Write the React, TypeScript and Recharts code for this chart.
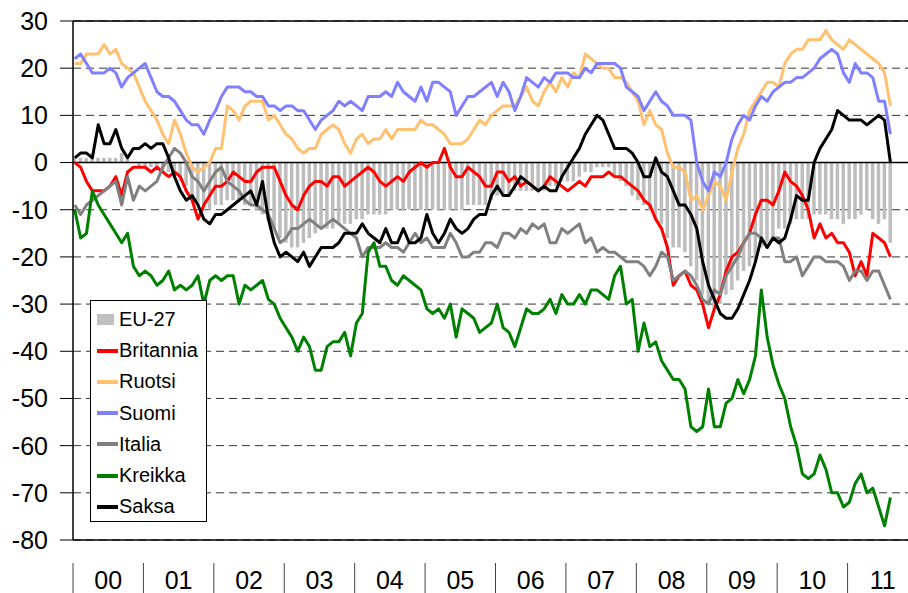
import {
  ComposedChart,
  Bar,
  Line,
  XAxis,
  YAxis,
  CartesianGrid,
  ReferenceLine,
  Legend,
} from 'recharts'

// luottamusindikaattori, kuukausittain 1/2000 - 8/2011
const years = ['00', '01', '02', '03', '04', '05', '06', '07', '08', '09', '10', '11']

const eu27 = [
  1, 1, 1, 2, 1, 1, 1, 1, 2, 1, 0, -1,
  -1, -1, -1, -2, -2, -3, -4, -5, -7, -9, -10, -10,
  -9, -9, -8, -8, -8, -9, -9, -10, -11, -12, -14, -16,
  -17, -18, -18, -17, -16, -15, -14, -14, -14, -13, -13, -13,
  -12, -12, -11, -11, -11, -11, -10, -10, -10, -10, -10, -10,
  -10, -10, -10, -10, -10, -10, -10, -9, -9, -9, -9, -8,
  -7, -7, -7, -6, -6, -6, -6, -6, -6, -5, -5, -4,
  -4, -4, -3, -2, -2, -1, -1, -1, -3, -4, -5, -7,
  -8, -9, -10, -12, -13, -16, -18, -18, -19, -22, -25, -28,
  -30, -31, -30, -28, -27, -25, -23, -22, -21, -18, -17, -16,
  -14, -14, -13, -12, -12, -12, -11, -11, -11, -12, -12, -13,
  -12, -12, -11, -10, -12, -13, -12, -17,
]

const britannia = [
  0, -1, -4, -6, -6, -6, -5, -3, -7, -2, -1, -1,
  -1, -2, -1, -2, -3, -2, -3, -6, -8, -12, -9, -7,
  -5, -5, -4, -2, -3, -4, -4, -2, -1, -1, -1, -4,
  -7, -9, -10, -7, -5, -4, -4, -5, -3, -3, -5, -4,
  -3, -2, -1, -2, -4, -5, -4, -3, -4, -2, -1, 0,
  -1, 0, 0, 3, -1, -3, -3, -1, -2, -3, -5, -5,
  -2, -2, -4, -3, -5, -4, -5, -6, -5, -3, -4, -5,
  -6, -5, -4, -5, -3, -3, -3, -2, -3, -3, -4, -5,
  -6, -8, -9, -12, -14, -18, -26, -24, -23, -26, -27, -30,
  -35, -31, -28, -23, -20, -19, -17, -15, -11, -8, -8, -9,
  -6, -2, -4, -5, -7, -10, -16, -13, -16, -15, -17, -17,
  -19, -24, -21, -24, -15, -16, -17, -20,
]

const ruotsi = [
  21, 21, 23, 23, 23, 25, 23, 24, 21, 20, 19, 16,
  13, 11, 9, 6, 4, 9, 6, 2, -1, -2, -1, 0,
  3, 3, 12, 11, 9, 12, 13, 13, 13, 9, 10, 8,
  6, 5, 3, 2, 3, 3, 6, 7, 8, 7, 4, 2,
  5, 6, 4, 5, 5, 7, 5, 7, 7, 7, 7, 9,
  8, 8, 7, 6, 4, 4, 4, 5, 7, 9, 8, 10,
  11, 12, 12, 12, 14, 16, 13, 12, 15, 17, 15, 18,
  16, 19, 18, 23, 22, 21, 20, 20, 18, 18, 17, 15,
  13, 8, 11, 8, 7, 2, -1, -1, -2, -8, -7, -10,
  -7, -4, -5, -8, -2, 3, 6, 11, 13, 15, 17, 17,
  16, 21, 23, 24, 24, 26, 26, 26, 28, 26, 25, 24,
  26, 25, 24, 23, 22, 21, 19, 12,
]

const suomi = [
  22, 23, 21, 19, 19, 19, 20, 19, 16, 18, 19, 20,
  21, 18, 15, 14, 14, 13, 11, 9, 8, 8, 6, 9,
  11, 14, 16, 16, 16, 15, 15, 14, 14, 12, 12, 11,
  12, 12, 11, 11, 9, 7, 9, 10, 11, 13, 12, 13,
  12, 11, 14, 14, 14, 15, 14, 17, 15, 14, 13, 16,
  13, 17, 17, 16, 15, 10, 12, 14, 14, 15, 16, 17,
  14, 17, 15, 11, 14, 18, 17, 16, 18, 17, 19, 19,
  19, 18, 18, 20, 19, 21, 21, 21, 21, 20, 16, 15,
  14, 11, 13, 15, 13, 12, 10, 10, 10, 9, 0, -4,
  -6, -2, -3, 0, 5, 8, 10, 9, 12, 14, 13, 15,
  16, 17, 17, 18, 18, 19, 20, 22, 23, 24, 23, 19,
  17, 21, 19, 19, 18, 13, 13, 6,
]

const italia = [
  -9, -11, -9, -8, -7, -6, -5, -4, -9, -3, -8, -5,
  -6, -5, -4, -1, 1, 3, 2, 0, -3, -4, -6, -4,
  -2, -1, -4, -5, -6, -8, -9, -9, -10, -11, -14, -17,
  -16, -14, -14, -13, -12, -13, -14, -13, -12, -13, -14, -15,
  -16, -20, -18, -18, -18, -17, -18, -18, -19, -17, -15, -17,
  -16, -18, -18, -18, -15, -17, -20, -20, -19, -19, -17, -17,
  -18, -15, -15, -16, -14, -15, -13, -14, -13, -17, -17, -14,
  -15, -14, -13, -17, -16, -19, -18, -19, -19, -20, -21, -21,
  -21, -22, -24, -22, -19, -20, -25, -24, -23, -24, -26, -29,
  -30, -27, -28, -24, -22, -20, -17, -15, -15, -16, -18, -16,
  -16, -21, -21, -20, -24, -22, -20, -20, -21, -21, -21, -22,
  -25, -23, -23, -25, -23, -23, -26, -29,
]

const kreikka = [
  -10, -16, -15, -6, -9, -11, -13, -15, -17, -15, -22, -24,
  -23, -24, -26, -25, -23, -27, -26, -27, -26, -24, -30, -25,
  -24, -25, -24, -24, -30, -26, -27, -26, -25, -29, -30, -33,
  -35, -37, -40, -37, -39, -44, -44, -39, -38, -38, -36, -41,
  -34, -32, -19, -17, -22, -22, -25, -26, -24, -25, -26, -27,
  -31, -32, -31, -33, -30, -37, -31, -32, -33, -36, -35, -34,
  -30, -35, -36, -39, -35, -31, -32, -32, -31, -29, -32, -28,
  -30, -30, -28, -30, -27, -27, -28, -29, -24, -22, -30, -29,
  -40, -34, -39, -38, -42, -44, -46, -46, -48, -56, -57, -56,
  -48, -56, -56, -51, -50, -46, -49, -46, -41, -27, -37, -43,
  -47, -50, -56, -60, -66, -67, -66, -62, -65, -70, -70, -73,
  -72, -68, -66, -70, -69, -73, -77, -71,
]

const saksa = [
  1, 2, 2, 1, 8, 4, 4, 7, 3, 1, 3, 3,
  4, 3, 4, 4, 1, -3, -6, -8, -7, -9, -12, -13,
  -11, -11, -10, -9, -8, -7, -6, -9, -4, -12, -17, -20,
  -19, -20, -21, -19, -22, -20, -18, -18, -18, -17, -15, -15,
  -15, -13, -15, -16, -17, -14, -17, -17, -14, -17, -17, -16,
  -11, -15, -17, -15, -12, -14, -15, -14, -12, -11, -11, -7,
  -5, -7, -7, -5, -3, -4, -5, -6, -5, -6, -6, -3,
  -1, 1, 3, 6, 8, 10, 9, 6, 3, 3, 3, 2,
  0, -3, -3, 1, -2, -3, -6, -9, -9, -11, -14, -21,
  -26, -29, -32, -33, -33, -31, -28, -25, -21, -16, -18, -16,
  -17, -16, -12, -7, -8, -8, 0, 3, 5, 7, 11, 10,
  9, 9, 9, 8, 9, 10, 9, 0,
]

const series = [
  { key: 'britannia', name: 'Britannia', color: '#ff0000' },
  { key: 'ruotsi', name: 'Ruotsi', color: '#ffc070' },
  { key: 'suomi', name: 'Suomi', color: '#8080ff' },
  { key: 'italia', name: 'Italia', color: '#808080' },
  { key: 'kreikka', name: 'Kreikka', color: '#008000' },
  { key: 'saksa', name: 'Saksa', color: '#000000' },
]

// kuukauden sijainti akselilla: indeksi + pieni siirto kuukauden sisään
const data = eu27.map((v, i) => ({
  m: i + 0.3,
  eu27: v,
  britannia: britannia[i],
  ruotsi: ruotsi[i],
  suomi: suomi[i],
  italia: italia[i],
  kreikka: kreikka[i],
  saksa: saksa[i],
}))

const FONT = '"Liberation Sans", Arial, sans-serif'
const yTicks = [-80, -70, -60, -50, -40, -30, -20, -10, 0, 10, 20, 30]
const xTicks = Array.from({ length: 25 }, (_, k) => k * 6)

function YearTick(props: any) {
  const { x, y, payload } = props
  const v = payload.value as number
  if (v % 12 === 0) {
    return <line x1={x} x2={x} y1={y + 23} y2={y + 60} stroke="#444" strokeWidth={1} />
  }
  return (
    <text x={x} y={y + 40} textAnchor="middle" dy="0.355em" fontSize={25} fontFamily={FONT} fill="#000">
      {years[(v - 6) / 12]}
    </text>
  )
}

function LegendBox() {
  const items = [{ name: 'EU-27', color: '#c0c0c0', bar: true }, ...series.map((s) => ({ ...s, bar: false }))]
  return (
    <div
      style={{
        width: 117,
        height: 222,
        boxSizing: 'border-box',
        border: '1px solid #000',
        background: '#fff',
        padding: '3px 0 0 6px',
        fontFamily: FONT,
        fontSize: 20,
        color: '#000',
      }}
    >
      {items.map((it) => (
        <div key={it.name} style={{ height: 31.2, display: 'flex', alignItems: 'center' }}>
          <span
            style={{
              display: 'inline-block',
              width: it.bar ? 17 : 21,
              height: it.bar ? 11 : 4,
              marginRight: it.bar ? 5 : 1,
              background: it.color,
            }}
          />
          <span>{it.name}</span>
        </div>
      ))}
    </div>
  )
}

export default function App() {
  return (
    <div style={{ position: 'absolute', left: 0, top: 0, width: 908, height: 593, overflow: 'hidden', background: '#fff' }}>
      <ComposedChart width={920} height={593} data={data} margin={{ top: 21, right: 2, bottom: 0, left: 0 }}>
        <CartesianGrid vertical={false} stroke="#333" strokeDasharray="8 5" />
        <XAxis
          dataKey="m"
          type="number"
          domain={[0, 144]}
          ticks={xTicks}
          interval={0}
          tick={<YearTick />}
          tickLine={false}
          axisLine={false}
          tickSize={0}
          tickMargin={0}
          height={53}
        />
        <YAxis
          domain={[-80, 30]}
          ticks={yTicks}
          interval={0}
          width={73}
          tickSize={13}
          tickMargin={12}
          tick={{ fontSize: 25, fill: '#000', fontFamily: FONT }}
          tickLine={{ stroke: '#000' }}
          axisLine={{ stroke: '#000', strokeWidth: 1.5 }}
        />
        <Bar dataKey="eu27" name="EU-27" fill="#bdbdbd" barSize={3.5} isAnimationActive={false} />
        <ReferenceLine y={0} stroke="#000" strokeWidth={1.5} />
        <ReferenceLine y={30} stroke="#000" strokeWidth={1.5} />
        <ReferenceLine y={-80} stroke="#000" strokeWidth={1.5} />
        {series.map((s) => (
          <Line
            key={s.key}
            dataKey={s.key}
            name={s.name}
            type="linear"
            stroke={s.color}
            strokeWidth={3}
            strokeLinejoin="round"
            dot={false}
            isAnimationActive={false}
          />
        ))}
        <Legend
          layout="horizontal"
          verticalAlign="middle"
          align="center"
          content={() => <LegendBox />}
          wrapperStyle={{ left: 90, top: 300, width: 117, height: 222 }}
        />
      </ComposedChart>
    </div>
  )
}
